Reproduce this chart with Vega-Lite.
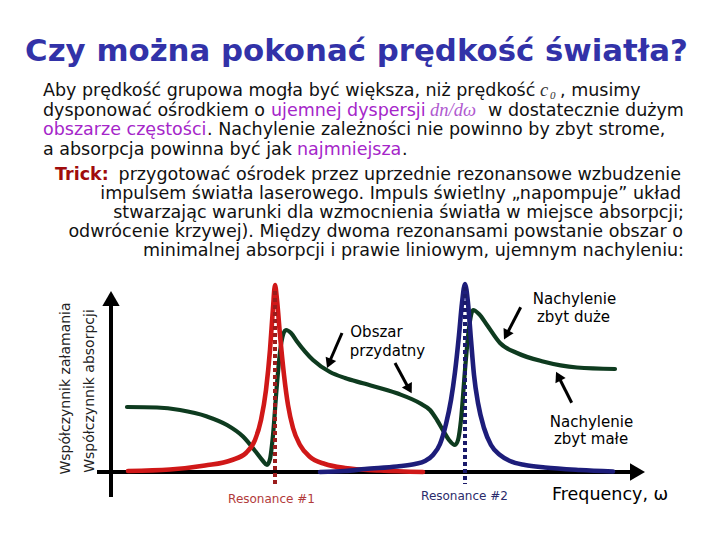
{
  "$schema": "https://vega.github.io/schema/vega-lite/v6.json",
  "width": 720,
  "height": 540,
  "autosize": {"type": "fit", "contains": "padding"},
  "padding": 0,
  "background": "white",
  "config": {"view": {"stroke": null}},
  "datasets": {
    "krzywe": [
      {"seria": "absorpcja 1", "x": 128, "y": 471}, {"seria": "absorpcja 1", "x": 170, "y": 469.5}, {"seria": "absorpcja 1", "x": 205, "y": 465.5}, {"seria": "absorpcja 1", "x": 232, "y": 460}, {"seria": "absorpcja 1", "x": 246, "y": 453}, {"seria": "absorpcja 1", "x": 255, "y": 440}, {"seria": "absorpcja 1", "x": 261, "y": 420}, {"seria": "absorpcja 1", "x": 266, "y": 390}, {"seria": "absorpcja 1", "x": 270, "y": 350}, {"seria": "absorpcja 1", "x": 273, "y": 308}, {"seria": "absorpcja 1", "x": 275, "y": 285}, {"seria": "absorpcja 1", "x": 277, "y": 300}, {"seria": "absorpcja 1", "x": 280, "y": 335}, {"seria": "absorpcja 1", "x": 284, "y": 375}, {"seria": "absorpcja 1", "x": 288, "y": 405}, {"seria": "absorpcja 1", "x": 293, "y": 428}, {"seria": "absorpcja 1", "x": 300, "y": 445}, {"seria": "absorpcja 1", "x": 310, "y": 457}, {"seria": "absorpcja 1", "x": 325, "y": 464}, {"seria": "absorpcja 1", "x": 345, "y": 468}, {"seria": "absorpcja 1", "x": 380, "y": 470.5}, {"seria": "absorpcja 1", "x": 423, "y": 472},
      {"seria": "załamanie", "x": 127, "y": 407}, {"seria": "załamanie", "x": 157, "y": 407.5}, {"seria": "załamanie", "x": 180, "y": 410}, {"seria": "załamanie", "x": 207, "y": 416.5}, {"seria": "załamanie", "x": 227, "y": 425}, {"seria": "załamanie", "x": 243, "y": 436.5}, {"seria": "załamanie", "x": 256, "y": 452}, {"seria": "załamanie", "x": 263, "y": 461}, {"seria": "załamanie", "x": 267, "y": 465}, {"seria": "załamanie", "x": 270, "y": 459}, {"seria": "załamanie", "x": 273, "y": 435}, {"seria": "załamanie", "x": 276.5, "y": 390}, {"seria": "załamanie", "x": 280, "y": 352}, {"seria": "załamanie", "x": 283, "y": 335}, {"seria": "załamanie", "x": 286, "y": 330}, {"seria": "załamanie", "x": 291, "y": 333}, {"seria": "załamanie", "x": 297, "y": 341.5}, {"seria": "załamanie", "x": 313, "y": 360}, {"seria": "załamanie", "x": 330, "y": 372}, {"seria": "załamanie", "x": 345, "y": 378}, {"seria": "załamanie", "x": 363, "y": 383.3}, {"seria": "załamanie", "x": 397, "y": 393.3}, {"seria": "załamanie", "x": 420, "y": 403.3}, {"seria": "załamanie", "x": 430, "y": 410}, {"seria": "załamanie", "x": 437, "y": 420}, {"seria": "załamanie", "x": 444, "y": 432}, {"seria": "załamanie", "x": 449, "y": 440}, {"seria": "załamanie", "x": 455, "y": 445}, {"seria": "załamanie", "x": 458, "y": 440}, {"seria": "załamanie", "x": 461, "y": 420}, {"seria": "załamanie", "x": 465, "y": 370}, {"seria": "załamanie", "x": 469, "y": 328}, {"seria": "załamanie", "x": 473, "y": 310}, {"seria": "załamanie", "x": 479, "y": 314}, {"seria": "załamanie", "x": 487, "y": 325}, {"seria": "załamanie", "x": 500, "y": 343}, {"seria": "załamanie", "x": 517, "y": 353}, {"seria": "załamanie", "x": 543, "y": 361.5}, {"seria": "załamanie", "x": 577, "y": 367.5}, {"seria": "załamanie", "x": 615, "y": 369},
      {"seria": "absorpcja 2", "x": 320, "y": 472}, {"seria": "absorpcja 2", "x": 345, "y": 471}, {"seria": "absorpcja 2", "x": 365, "y": 469}, {"seria": "absorpcja 2", "x": 397, "y": 466.5}, {"seria": "absorpcja 2", "x": 415, "y": 464}, {"seria": "absorpcja 2", "x": 425, "y": 461}, {"seria": "absorpcja 2", "x": 433, "y": 455}, {"seria": "absorpcja 2", "x": 440, "y": 444}, {"seria": "absorpcja 2", "x": 446, "y": 424}, {"seria": "absorpcja 2", "x": 451, "y": 400}, {"seria": "absorpcja 2", "x": 455, "y": 372}, {"seria": "absorpcja 2", "x": 459, "y": 335}, {"seria": "absorpcja 2", "x": 462, "y": 303}, {"seria": "absorpcja 2", "x": 465, "y": 284}, {"seria": "absorpcja 2", "x": 468, "y": 303}, {"seria": "absorpcja 2", "x": 471, "y": 340}, {"seria": "absorpcja 2", "x": 474, "y": 375}, {"seria": "absorpcja 2", "x": 478, "y": 403}, {"seria": "absorpcja 2", "x": 484, "y": 428}, {"seria": "absorpcja 2", "x": 491, "y": 445}, {"seria": "absorpcja 2", "x": 500, "y": 455}, {"seria": "absorpcja 2", "x": 510, "y": 461}, {"seria": "absorpcja 2", "x": 525, "y": 465}, {"seria": "absorpcja 2", "x": 545, "y": 467.5}, {"seria": "absorpcja 2", "x": 580, "y": 470}, {"seria": "absorpcja 2", "x": 613, "y": 471.5}
    ],
    "osie": [
      {"os": "pionowa", "x": 111, "y": 299, "x2": 111, "y2": 497},
      {"os": "pozioma", "x": 97, "y": 472, "x2": 638, "y2": 472}
    ],
    "rezonanse": [
      {"rezonans": "Resonance #1", "x": 275, "y": 291, "y2": 484},
      {"rezonans": "Resonance #2", "x": 465, "y": 287, "y2": 484}
    ],
    "strzalki": [
      {"opis": "Obszar przydatny (lewa)", "x": 342, "y": 333, "x2": 329, "y2": 363},
      {"opis": "Obszar przydatny (prawa)", "x": 395, "y": 363, "x2": 409, "y2": 389},
      {"opis": "Nachylenie zbyt duże", "x": 520.7, "y": 307.3, "x2": 506.3, "y2": 335},
      {"opis": "Nachylenie zbyt małe", "x": 571.7, "y": 402.7, "x2": 558.3, "y2": 376.2}
    ],
    "groty": [
      {"rodzaj": "strzałka", "x": 329, "y": 363.4, "kierunek": 203},
      {"rodzaj": "strzałka", "x": 409.3, "y": 389, "kierunek": 151},
      {"rodzaj": "strzałka", "x": 506.3, "y": 335, "kierunek": 207.6},
      {"rodzaj": "strzałka", "x": 558.3, "y": 376.2, "kierunek": 333},
      {"rodzaj": "oś", "x": 111, "y": 298.5, "kierunek": 0},
      {"rodzaj": "oś", "x": 637.5, "y": 472, "kierunek": 90}
    ],
    "teksty": [
      {"tekst": "Czy można pokonać prędkość światła?", "x": 356.5, "y": 61, "rola": "tytuł", "ton": "tytuł"},
      {"tekst": "Aby prędkość grupowa mogła być większa, niż prędkość", "x": 43, "y": 96, "rola": "lewy", "ton": "zwykły"},
      {"tekst": ", musimy", "x": 560, "y": 96, "rola": "lewy", "ton": "zwykły"},
      {"tekst": "dysponować ośrodkiem o", "x": 43, "y": 115.5, "rola": "lewy", "ton": "zwykły"},
      {"tekst": "ujemnej dyspersji", "x": 271, "y": 115.5, "rola": "lewy", "ton": "akcent"},
      {"tekst": "w dostatecznie dużym", "x": 488, "y": 115.5, "rola": "lewy", "ton": "zwykły"},
      {"tekst": "obszarze częstości", "x": 43, "y": 135, "rola": "lewy", "ton": "akcent"},
      {"tekst": ".  Nachylenie zależności nie powinno by zbyt strome,", "x": 207, "y": 135, "rola": "lewy", "ton": "zwykły"},
      {"tekst": "a absorpcja powinna być jak", "x": 43, "y": 154.5, "rola": "lewy", "ton": "zwykły"},
      {"tekst": "najmniejsza", "x": 297, "y": 154.5, "rola": "lewy", "ton": "akcent"},
      {"tekst": ".", "x": 402, "y": 154.5, "rola": "lewy", "ton": "zwykły"},
      {"tekst": "c", "x": 540, "y": 96, "rola": "wzór", "ton": "zwykły"},
      {"tekst": "dn/dω", "x": 430, "y": 115.5, "rola": "wzór", "ton": "akcent"},
      {"tekst": "0", "x": 550, "y": 99, "rola": "indeks", "ton": "zwykły"},
      {"tekst": "Trick:", "x": 55, "y": 179.5, "rola": "trick", "ton": "trick"},
      {"tekst": "przygotować ośrodek przez uprzednie rezonansowe wzbudzenie", "x": 681, "y": 179.5, "rola": "prawy", "ton": "zwykły"},
      {"tekst": "impulsem światła laserowego. Impuls świetlny „napompuje” układ", "x": 681, "y": 198.5, "rola": "prawy", "ton": "zwykły"},
      {"tekst": "stwarzając warunki dla wzmocnienia światła w miejsce absorpcji;", "x": 684, "y": 218, "rola": "prawy", "ton": "zwykły"},
      {"tekst": "odwrócenie krzywej). Między dwoma rezonansami powstanie obszar o", "x": 683, "y": 237, "rola": "prawy", "ton": "zwykły"},
      {"tekst": "minimalnej absorpcji i prawie liniowym, ujemnym nachyleniu:", "x": 684, "y": 256, "rola": "prawy", "ton": "zwykły"},
      {"tekst": "Obszar", "x": 376.5, "y": 336.7, "rola": "opis", "ton": "zwykły"},
      {"tekst": "przydatny", "x": 387.5, "y": 356, "rola": "opis", "ton": "zwykły"},
      {"tekst": "Nachylenie", "x": 574.5, "y": 304, "rola": "opis", "ton": "zwykły"},
      {"tekst": "zbyt duże", "x": 573.5, "y": 321.7, "rola": "opis", "ton": "zwykły"},
      {"tekst": "Nachylenie", "x": 591.5, "y": 427.3, "rola": "opis", "ton": "zwykły"},
      {"tekst": "zbyt małe", "x": 591, "y": 444.3, "rola": "opis", "ton": "zwykły"},
      {"tekst": "Resonance #1", "x": 271.5, "y": 503, "rola": "rezonans", "ton": "rez1"},
      {"tekst": "Resonance #2", "x": 464.5, "y": 500, "rola": "rezonans", "ton": "rez2"},
      {"tekst": "Frequency, ω", "x": 552, "y": 500, "rola": "oś-x", "ton": "zwykły"},
      {"tekst": "Współczynnik załamania", "x": 66, "y": 388.5, "rola": "oś-y", "ton": "zwykły"},
      {"tekst": "Współczynnik absorpcji", "x": 89.5, "y": 391, "rola": "oś-y", "ton": "zwykły"}
    ]
  },
  "encoding": {
    "x": {"field": "x", "type": "quantitative", "scale": {"domain": [0, 720], "nice": false, "zero": false}, "axis": null},
    "y": {"field": "y", "type": "quantitative", "scale": {"domain": [0, 540], "nice": false, "zero": false, "reverse": true}, "axis": null}
  },
  "layer": [
    {
      "data": {"name": "osie"},
      "mark": {"type": "rule", "color": "#000000", "strokeWidth": 4},
      "encoding": {"x2": {"field": "x2"}, "y2": {"field": "y2"}}
    },
    {
      "data": {"name": "groty"},
      "transform": [{"filter": "datum.rodzaj === 'oś'"}],
      "mark": {"type": "point", "shape": "triangle-up", "filled": true, "color": "#000000", "size": 300, "opacity": 1},
      "encoding": {"angle": {"field": "kierunek", "type": "quantitative", "scale": null}}
    },
    {
      "data": {"name": "krzywe"},
      "transform": [{"filter": "datum.seria === 'załamanie'"}],
      "mark": {"type": "line", "color": "#0e3b1f", "strokeWidth": 4.2, "interpolate": "monotone", "strokeCap": "round"},
      "encoding": {}
    },
    {
      "data": {"name": "krzywe"},
      "transform": [{"filter": "datum.seria === 'absorpcja 1'"}],
      "mark": {"type": "line", "color": "#d01818", "strokeWidth": 4.6, "interpolate": "monotone", "strokeCap": "round"},
      "encoding": {}
    },
    {
      "data": {"name": "krzywe"},
      "transform": [{"filter": "datum.seria === 'absorpcja 2'"}],
      "mark": {"type": "line", "color": "#1d1d7a", "strokeWidth": 4.6, "interpolate": "monotone", "strokeCap": "round"},
      "encoding": {}
    },
    {
      "data": {"name": "rezonanse"},
      "mark": {"type": "rule", "strokeWidth": 4, "strokeDash": [4, 3]},
      "encoding": {
        "y2": {"field": "y2"},
        "color": {"field": "rezonans", "type": "nominal", "scale": {"domain": ["Resonance #1", "Resonance #2"], "range": ["#9b1c1c", "#1a1a6a"]}, "legend": null}
      }
    },
    {
      "data": {"name": "strzalki"},
      "mark": {"type": "rule", "color": "#000000", "strokeWidth": 3},
      "encoding": {"x2": {"field": "x2"}, "y2": {"field": "y2"}}
    },
    {
      "data": {"name": "groty"},
      "transform": [{"filter": "datum.rodzaj === 'strzałka'"}],
      "mark": {"type": "point", "shape": "triangle-up", "filled": true, "color": "#000000", "size": 130, "opacity": 1},
      "encoding": {"angle": {"field": "kierunek", "type": "quantitative", "scale": null}}
    },
    {
      "data": {"name": "teksty"},
      "transform": [{"filter": "datum.rola === 'tytuł'"}],
      "mark": {"type": "text", "font": "DejaVu Sans", "fontWeight": "bold", "fontSize": 30.8, "align": "center", "baseline": "alphabetic", "color": "#3232a8"},
      "encoding": {"text": {"field": "tekst"}}
    },
    {
      "data": {"name": "teksty"},
      "transform": [{"filter": "datum.rola === 'lewy'"}],
      "mark": {"type": "text", "font": "DejaVu Sans", "fontSize": 17.5, "align": "left", "baseline": "alphabetic"},
      "encoding": {
        "text": {"field": "tekst"},
        "color": {"field": "ton", "type": "nominal", "scale": {"domain": ["zwykły", "akcent"], "range": ["#111111", "#a526c9"]}, "legend": null}
      }
    },
    {
      "data": {"name": "teksty"},
      "transform": [{"filter": "datum.rola === 'wzór'"}],
      "mark": {"type": "text", "font": "Liberation Serif", "fontStyle": "italic", "fontSize": 18.5, "align": "left", "baseline": "alphabetic"},
      "encoding": {
        "text": {"field": "tekst"},
        "color": {"field": "ton", "type": "nominal", "scale": {"domain": ["zwykły", "akcent"], "range": ["#333333", "#b05ad0"]}, "legend": null}
      }
    },
    {
      "data": {"name": "teksty"},
      "transform": [{"filter": "datum.rola === 'indeks'"}],
      "mark": {"type": "text", "font": "Liberation Serif", "fontStyle": "italic", "fontSize": 11, "align": "left", "baseline": "alphabetic", "color": "#333333"},
      "encoding": {"text": {"field": "tekst"}}
    },
    {
      "data": {"name": "teksty"},
      "transform": [{"filter": "datum.rola === 'trick'"}],
      "mark": {"type": "text", "font": "DejaVu Sans", "fontWeight": "bold", "fontSize": 17.5, "align": "left", "baseline": "alphabetic", "color": "#a00c0c"},
      "encoding": {"text": {"field": "tekst"}}
    },
    {
      "data": {"name": "teksty"},
      "transform": [{"filter": "datum.rola === 'prawy'"}],
      "mark": {"type": "text", "font": "DejaVu Sans", "fontSize": 17.5, "align": "right", "baseline": "alphabetic", "color": "#111111"},
      "encoding": {"text": {"field": "tekst"}}
    },
    {
      "data": {"name": "teksty"},
      "transform": [{"filter": "datum.rola === 'opis'"}],
      "mark": {"type": "text", "font": "DejaVu Sans", "fontSize": 15, "align": "center", "baseline": "alphabetic", "color": "#000000"},
      "encoding": {"text": {"field": "tekst"}}
    },
    {
      "data": {"name": "teksty"},
      "transform": [{"filter": "datum.rola === 'rezonans'"}],
      "mark": {"type": "text", "font": "DejaVu Sans", "fontSize": 12, "align": "center", "baseline": "alphabetic"},
      "encoding": {
        "text": {"field": "tekst"},
        "color": {"field": "ton", "type": "nominal", "scale": {"domain": ["rez1", "rez2"], "range": ["#b23a3a", "#2b2b6b"]}, "legend": null}
      }
    },
    {
      "data": {"name": "teksty"},
      "transform": [{"filter": "datum.rola === 'oś-x'"}],
      "mark": {"type": "text", "font": "DejaVu Sans", "fontSize": 17.5, "align": "left", "baseline": "alphabetic", "color": "#000000"},
      "encoding": {"text": {"field": "tekst"}}
    },
    {
      "data": {"name": "teksty"},
      "transform": [{"filter": "datum.rola === 'oś-y'"}],
      "mark": {"type": "text", "font": "DejaVu Sans", "fontSize": 14, "align": "center", "baseline": "middle", "angle": 270, "color": "#222222"},
      "encoding": {"text": {"field": "tekst"}}
    }
  ],
  "resolve": {"scale": {"color": "independent"}}
}
